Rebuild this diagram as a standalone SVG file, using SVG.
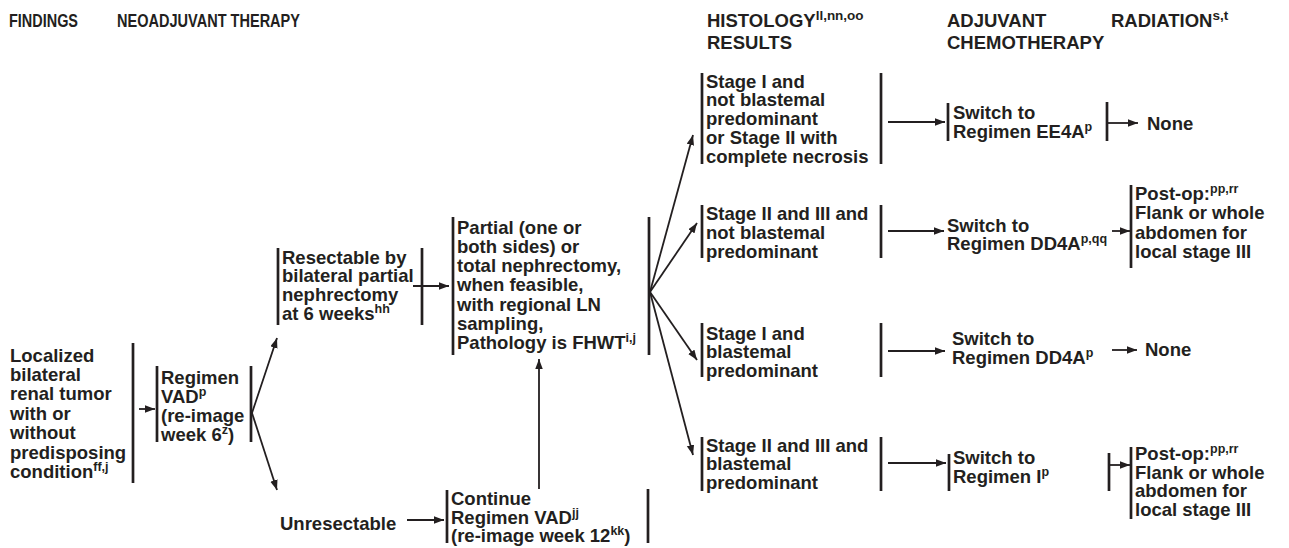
<svg xmlns="http://www.w3.org/2000/svg" width="1289" height="548" viewBox="0 0 1289 548">
<defs>
<style>
text{font-family:"Liberation Sans",Arial,Helvetica,sans-serif;font-weight:bold;font-size:18.5px;fill:#231f20}
.sup{font-size:12.5px}
.hsup{font-size:13.5px}
.hd{font-size:18.5px}
.br{stroke:#231f20;stroke-width:2.7;fill:none}
.ar{stroke:#231f20;stroke-width:1.8;fill:none;marker-end:url(#ah)}
</style>
<marker id="ah" markerUnits="userSpaceOnUse" markerWidth="11" markerHeight="8" refX="10" refY="3.75" orient="auto">
<path d="M0,0 L10,3.75 L0,7.5 z" fill="#231f20"/>
</marker>
</defs>
<rect width="1289" height="548" fill="#fff"/>

<g id="headers">
<text class="hd" x="9" y="27" textLength="69" lengthAdjust="spacingAndGlyphs">FINDINGS</text>
<text class="hd" x="117" y="27" textLength="183" lengthAdjust="spacingAndGlyphs">NEOADJUVANT THERAPY</text>
<text class="hd" x="707" y="27">HISTOLOGY<tspan class="hsup" dy="-7">ll,nn,oo</tspan></text>
<text class="hd" x="707" y="49">RESULTS</text>
<text class="hd" x="947" y="27">ADJUVANT</text>
<text class="hd" x="947" y="49">CHEMOTHERAPY</text>
<text class="hd" x="1111" y="27">RADIATION<tspan class="hsup" dy="-7">s,t</tspan></text>
</g>

<g id="findings">
<text x="10" y="361.5">Localized</text>
<text x="10" y="380.9">bilateral</text>
<text x="10" y="400.3">renal tumor</text>
<text x="10" y="419.7">with or</text>
<text x="10" y="439.1">without</text>
<text x="10" y="458.5">predisposing</text>
<text x="10" y="477.9">condition<tspan class="sup" dy="-7">ff,j</tspan></text>
<line class="br" x1="133" y1="343" x2="133" y2="483"/>
</g>

<g id="vad">
<line class="br" x1="157" y1="366" x2="157" y2="442"/>
<text x="161" y="384">Regimen</text>
<text x="161" y="402.9">VAD<tspan class="sup" dy="-7">p</tspan></text>
<text x="161" y="421.8">(re-image</text>
<text x="161" y="440.7">week 6<tspan class="sup" dy="-7">z</tspan><tspan dy="7">)</tspan></text>
<line class="br" x1="251" y1="366" x2="251" y2="442"/>
</g>

<g id="resectable">
<line class="br" x1="278" y1="248" x2="278" y2="325"/>
<text x="282" y="263.6">Resectable by</text>
<text x="282" y="282.4">bilateral partial</text>
<text x="282" y="301.2">nephrectomy</text>
<text x="282" y="320">at 6 weeks<tspan class="sup" dy="-7">hh</tspan></text>
<line class="br" x1="422" y1="248" x2="422" y2="325"/>
</g>

<g id="unresectable">
<text x="280" y="530">Unresectable</text>
</g>

<g id="surgery">
<line class="br" x1="453" y1="217" x2="453" y2="355"/>
<text x="457" y="233.5">Partial (one or</text>
<text x="457" y="252.8">both sides) or</text>
<text x="457" y="272.1">total nephrectomy,</text>
<text x="457" y="291.4">when feasible,</text>
<text x="457" y="310.7">with regional LN</text>
<text x="457" y="330">sampling,</text>
<text x="457" y="349.3">Pathology is FHWT<tspan class="sup" dy="-7">i,j</tspan></text>
<line class="br" x1="649" y1="217" x2="649" y2="355"/>
</g>

<g id="continue">
<line class="br" x1="447" y1="490" x2="447" y2="543"/>
<text x="451" y="505">Continue</text>
<text x="451" y="523.5">Regimen VAD<tspan class="sup" dy="-7">jj</tspan></text>
<text x="451" y="542">(re-image week 12<tspan class="sup" dy="-7">kk</tspan><tspan dy="7">)</tspan></text>
<line class="br" x1="648" y1="489" x2="648" y2="543"/>
</g>

<g id="hist1">
<line class="br" x1="702" y1="73" x2="702" y2="164"/>
<text x="706" y="87.5">Stage I and</text>
<text x="706" y="106.3">not blastemal</text>
<text x="706" y="125.1">predominant</text>
<text x="706" y="143.9">or Stage II with</text>
<text x="706" y="162.7">complete necrosis</text>
<line class="br" x1="881" y1="73" x2="881" y2="164"/>
</g>

<g id="hist2">
<line class="br" x1="702" y1="205" x2="702" y2="258"/>
<text x="706" y="220">Stage II and III and</text>
<text x="706" y="238.8">not blastemal</text>
<text x="706" y="257.6">predominant</text>
<line class="br" x1="881" y1="205" x2="881" y2="258"/>
</g>

<g id="hist3">
<line class="br" x1="702" y1="323" x2="702" y2="377"/>
<text x="706" y="339.6">Stage I and</text>
<text x="706" y="358.4">blastemal</text>
<text x="706" y="377.2">predominant</text>
<line class="br" x1="881" y1="323" x2="881" y2="377"/>
</g>

<g id="hist4">
<line class="br" x1="702" y1="437" x2="702" y2="491"/>
<text x="706" y="451.6">Stage II and III and</text>
<text x="706" y="470.4">blastemal</text>
<text x="706" y="489.2">predominant</text>
<line class="br" x1="881" y1="437" x2="881" y2="491"/>
</g>

<g id="chemo1">
<line class="br" x1="948" y1="103" x2="948" y2="141"/>
<text x="953" y="119.3">Switch to</text>
<text x="953" y="138">Regimen EE4A<tspan class="sup" dy="-7">p</tspan></text>
<line class="br" x1="1107" y1="102" x2="1107" y2="141"/>
</g>

<g id="chemo2">
<text x="947" y="231.5">Switch to</text>
<text x="947" y="250">Regimen DD4A<tspan class="sup" dy="-7">p,qq</tspan></text>
</g>

<g id="chemo3">
<text x="952" y="345">Switch to</text>
<text x="952" y="363.5">Regimen DD4A<tspan class="sup" dy="-7">p</tspan></text>
</g>

<g id="chemo4">
<line class="br" x1="949" y1="454" x2="949" y2="491"/>
<text x="953" y="464">Switch to</text>
<text x="953" y="482.5">Regimen I<tspan class="sup" dy="-7">p</tspan></text>
<line class="br" x1="1109" y1="453" x2="1109" y2="491"/>
</g>

<g id="rad1">
<text x="1147" y="130">None</text>
</g>

<g id="rad2">
<line class="br" x1="1131" y1="185" x2="1131" y2="268"/>
<text x="1135" y="200">Post-op:<tspan class="sup" dy="-7">pp,rr</tspan></text>
<text x="1135" y="219.3">Flank or whole</text>
<text x="1135" y="238.6">abdomen for</text>
<text x="1135" y="257.9">local stage III</text>
</g>

<g id="rad3">
<text x="1145" y="356">None</text>
</g>

<g id="rad4">
<line class="br" x1="1131" y1="447" x2="1131" y2="519"/>
<text x="1135" y="460">Post-op:<tspan class="sup" dy="-7">pp,rr</tspan></text>
<text x="1135" y="478.6">Flank or whole</text>
<text x="1135" y="497.2">abdomen for</text>
<text x="1135" y="515.8">local stage III</text>
</g>

<g id="connectors">
<line class="ar" x1="139" y1="409" x2="155" y2="409"/>
<line class="ar" x1="252" y1="413" x2="277" y2="338"/>
<line class="ar" x1="252" y1="413" x2="277" y2="490"/>
<line class="ar" x1="413" y1="286" x2="449" y2="286"/>
<line class="ar" x1="407" y1="520" x2="444" y2="520"/>
<line class="ar" x1="539" y1="489" x2="539" y2="359"/>
<line class="ar" x1="650" y1="292" x2="693" y2="135"/>
<line class="ar" x1="650" y1="292" x2="697" y2="223"/>
<line class="ar" x1="650" y1="292" x2="697" y2="360"/>
<line class="ar" x1="650" y1="292" x2="693" y2="455"/>
<line class="ar" x1="888" y1="122" x2="945" y2="122"/>
<line class="ar" x1="888" y1="231" x2="944" y2="231"/>
<line class="ar" x1="888" y1="351" x2="945" y2="351"/>
<line class="ar" x1="888" y1="463" x2="946" y2="463"/>
<line class="ar" x1="1108" y1="123" x2="1138" y2="123"/>
<line class="ar" x1="1112" y1="231" x2="1130" y2="231"/>
<line class="ar" x1="1112" y1="350" x2="1137" y2="350"/>
<line class="ar" x1="1109" y1="465" x2="1130" y2="465"/>
</g>
</svg>
